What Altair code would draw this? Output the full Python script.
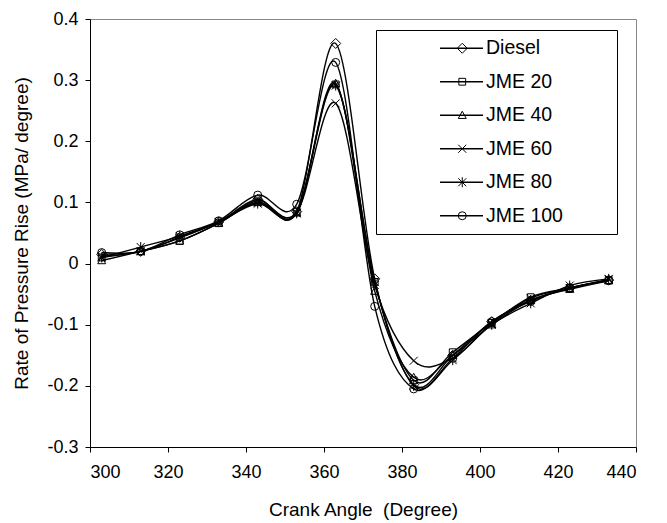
import altair as alt
import pandas as pd

FONT = "Liberation Sans"

angles = [303, 313, 323, 333, 343, 353, 363, 373, 383, 393, 403, 413, 423, 433]
fuels = ["Diesel", "JME 20", "JME 40", "JME 60", "JME 80", "JME 100"]
marker_ids = ["D", "J20", "J40", "J60", "J80", "J100"]
diesel = [0.015, 0.020, 0.043, 0.068, 0.105, 0.085, 0.360, -0.025, -0.198, -0.150, -0.095, -0.060, -0.040, -0.027]
jme20 = [0.010, 0.020, 0.037, 0.066, 0.103, 0.085, 0.293, -0.030, -0.191, -0.145, -0.097, -0.055, -0.040, -0.027]
jme40 = [0.005, 0.020, 0.037, 0.066, 0.100, 0.083, 0.295, -0.045, -0.186, -0.150, -0.100, -0.060, -0.042, -0.028]
jme60 = [0.012, 0.020, 0.042, 0.068, 0.100, 0.083, 0.262, -0.035, -0.159, -0.155, -0.098, -0.057, -0.040, -0.026]
jme80 = [0.010, 0.027, 0.045, 0.068, 0.098, 0.082, 0.291, -0.030, -0.200, -0.158, -0.100, -0.065, -0.036, -0.025]
jme100 = [0.018, 0.020, 0.047, 0.070, 0.112, 0.097, 0.329, -0.070, -0.205, -0.155, -0.095, -0.062, -0.040, -0.028]

series = [diesel, jme20, jme40, jme60, jme80, jme100]
marker_paths = [
    "M0,-1.25L1.25,0L0,1.25L-1.25,0Z",          # diamond
    "M-0.85,-0.85H0.85V0.85H-0.85Z",            # square
    "M0,-1L1,0.8H-1Z",                          # triangle
    "M-1,-1L1,1M-1,1L1,-1",                     # x
    "M-1,-1L1,1M-1,1L1,-1M0,-1.25V1.25",        # asterisk
    "circle",                                   # circle
]

rows = []
for fuel, mid, vals in zip(fuels, marker_ids, series):
    for a, v in zip(angles, vals):
        rows.append({"angle": a, "rate": v, "Fuel": fuel, "Marker": mid})
df = pd.DataFrame(rows)

x_enc = alt.X("angle:Q",
              scale=alt.Scale(domain=[300, 440], nice=False, zero=False),
              axis=alt.Axis(values=[300, 320, 340, 360, 380, 400, 420, 440],
                            title="Crank Angle\u00a0 (Degree)",
                            titleBaseline="alphabetic", titleY=68,
                            labelPadding=11, tickSize=5))
y_enc = alt.Y("rate:Q",
              scale=alt.Scale(domain=[-0.3, 0.4], nice=False, zero=False),
              axis=alt.Axis(values=[-0.3, -0.2, -0.1, 0, 0.1, 0.2, 0.3, 0.4],
                            labelExpr="datum.value == 0 ? '0' : (datum.value < 0 ? '-' + format(-datum.value, '.1f') : format(datum.value, '.1f'))",
                            title="Rate of Pressure Rise (MPa/ degree)",
                            titleBaseline="alphabetic", titleX=-63, titleY=214,
                            titleAlign="center", titleAngle=270,
                            labelPadding=7, tickSize=5))

# legend 1: line segments + labels
lines = alt.Chart(df).mark_line(interpolate="cardinal", tension=0, strokeWidth=1.4).encode(
    x=x_enc, y=y_enc,
    color=alt.Color("Fuel:N",
                    scale=alt.Scale(domain=fuels, range=["black"] * 6),
                    legend=alt.Legend(orient="none", legendX=286, legendY=11, title=None,
                                      symbolType="stroke", symbolSize=1849,
                                      symbolStrokeWidth=1.4, symbolStrokeColor="black",
                                      labelFont=FONT, labelFontSize=19.5, labelColor="black",
                                      labelLimit=400,
                                      padding=8.5, fillColor="white",
                                      clipHeight=19.5, rowPadding=12.5,
                                      symbolOffset=54.5, labelOffset=2)),
    order="angle:Q",
)

# legend 2: markers + frame (labels hidden)
points = alt.Chart(df).mark_point(filled=False, color="black", size=64, strokeWidth=1, opacity=1).encode(
    x="angle:Q", y="rate:Q",
    shape=alt.Shape("Marker:N",
                    scale=alt.Scale(domain=marker_ids, range=marker_paths),
                    legend=alt.Legend(orient="none", legendX=286, legendY=11, title=None,
                                      symbolSize=64, symbolStrokeWidth=1,
                                      symbolStrokeColor="black", symbolFillColor="transparent",
                                      labelFont=FONT, labelFontSize=19.5, labelOpacity=0,
                                      labelLimit=400,
                                      padding=8.5, clipHeight=19.5, rowPadding=12.5,
                                      strokeColor="black",
                                      symbolOffset=68, labelOffset=94)),
)

chart = alt.layer(lines, points).properties(
    width=546, height=428,
    autosize=alt.AutoSizeParams(type="none"),
    padding={"left": 90, "top": 19, "right": 31, "bottom": 76},
).configure_view(
    stroke="#888888", strokeWidth=1
).configure_axis(
    grid=False, domainColor="black", domainWidth=1, tickColor="black", tickWidth=1,
    labelFont=FONT, labelFontSize=18, labelColor="black",
    titleFont=FONT, titleFontSize=19, titleColor="black", titleFontWeight="normal",
)

chart.save("out.html", embed_options={"renderer": "svg", "actions": False})
